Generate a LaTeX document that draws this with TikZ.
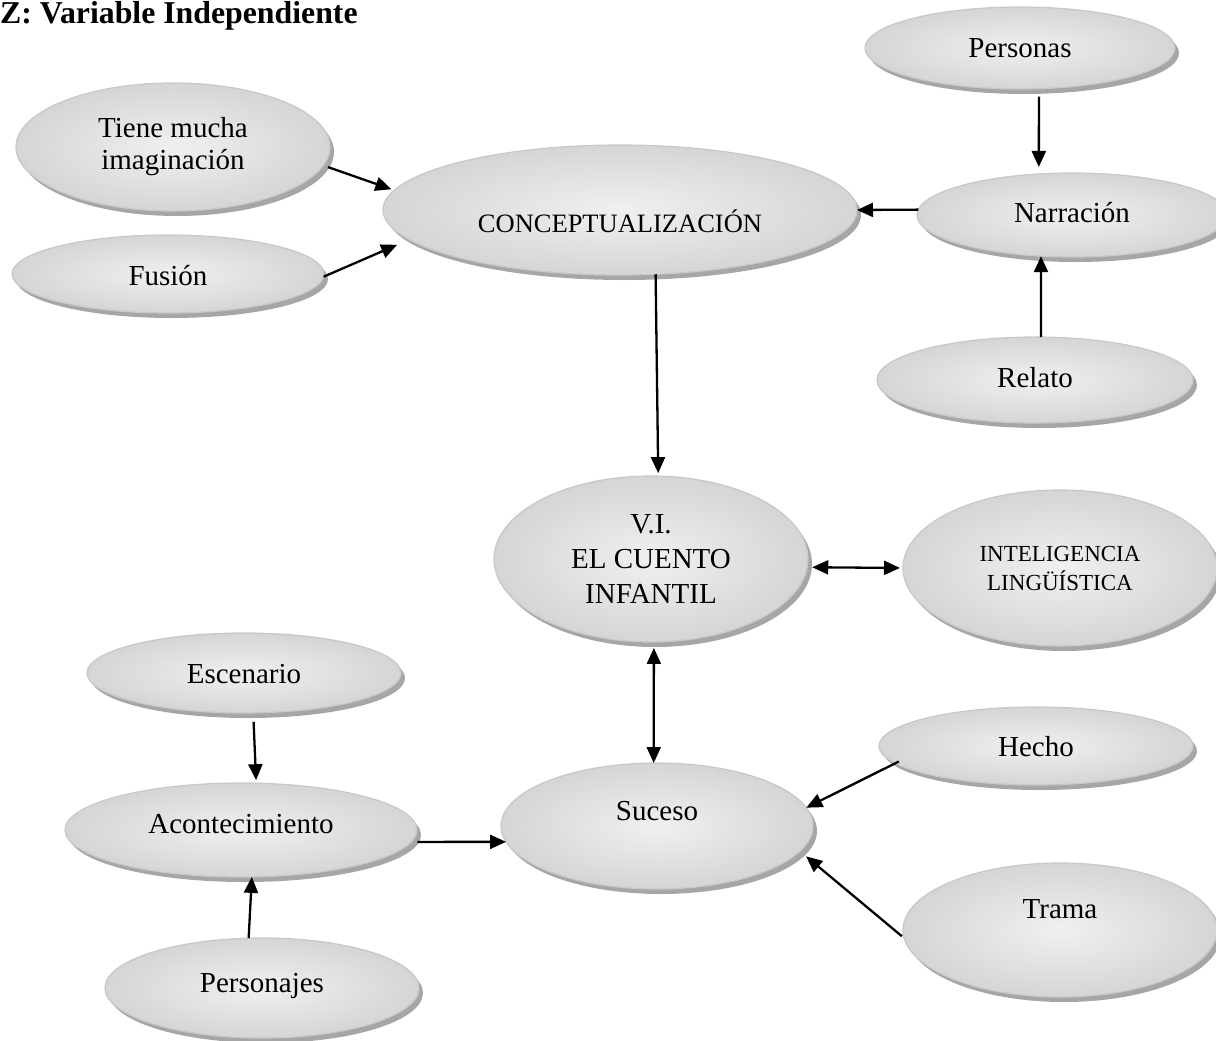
\documentclass[tikz,border=0pt]{standalone}
\usepackage{fontspec}
\setmainfont{Liberation Serif}
\usetikzlibrary{shapes.geometric,arrows.meta,shadows}
\newcommand\myfs[2]{\fontsize{#1}{#2}\selectfont}
\definecolor{bord}{HTML}{C8C8C8}
\definecolor{shad}{HTML}{A6A6A6}
\definecolor{innerc}{HTML}{F0F0F0}
\definecolor{outerc}{HTML}{D5D5D5}
\tikzset{
  bub/.style={ellipse, draw=bord, line width=1.2pt, inner color=innerc, outer color=outerc,
    inner sep=0pt, outer sep=0pt, font=\myfs{29}{32}, align=center,
    drop shadow={shadow xshift=4pt, shadow yshift=-5pt, fill=shad, opacity=1}},
  arr/.style={-{Triangle[length=16pt,width=14pt]}, line width=2.3pt},
  arrtwo/.style={{Triangle[length=16pt,width=14pt]}-{Triangle[length=16pt,width=14pt]}, line width=2.3pt}
}
\begin{document}
\begin{tikzpicture}[x=1pt,y=-1pt]
\useasboundingbox (0,0) rectangle (1216,1041);
\node[anchor=base west, font=\bfseries\myfs{31.8}{36}, inner sep=0pt] (title) at (0,23.5) {Z: Variable Independiente};

\node[bub, minimum width=314pt, minimum height=128pt] (tiene) at (173,147) {Tiene mucha\\imaginación};
\node[bub, minimum width=312pt, minimum height=78pt, text height=26pt, text depth=4pt] (fusion) at (168,274) {Fusión};
\node[bub, minimum width=474pt, minimum height=130pt, text height=48pt, text depth=4pt, font=\myfs{26.5}{30}] (concept) at (620,210) {CONCEPTUALIZACIÓN};
\node[bub, minimum width=310pt, minimum height=82pt, text height=24pt, text depth=4pt] (personas) at (1020,48) {Personas};
\node[bub, minimum width=310pt, minimum height=84pt, text height=20pt, text depth=6pt] (narr) at (1072,215) {Narración};
\node[bub, minimum width=316pt, minimum height=86pt, text height=20pt, text depth=6pt] (relato) at (1035,380) {Relato};
\node[bub, minimum width=314pt, minimum height=166pt, font=\myfs{29}{35}] (vi) at (651,559) {V.I.\\EL CUENTO\\INFANTIL};
\node[bub, minimum width=314pt, minimum height=156pt, font=\myfs{23}{29}] (intel) at (1060,568) {INTELIGENCIA\\LINGÜÍSTICA};
\node[bub, minimum width=314pt, minimum height=80pt, text height=24pt, text depth=4pt] (escen) at (244,673) {Escenario};
\node[bub, minimum width=352pt, minimum height=94pt, text height=16pt, text depth=10pt] (acont) at (241,830) {Acontecimiento};
\node[bub, minimum width=314pt, minimum height=100pt, text height=17pt, text depth=9pt] (personajes) at (262,988) {Personajes};
\node[bub, minimum width=312pt, minimum height=126pt, text height=8pt, text depth=20pt] (suceso) at (657,826) {Suceso};
\node[bub, minimum width=314pt, minimum height=78pt, text height=25pt, text depth=4pt] (hecho) at (1036,746) {Hecho};
\node[bub, minimum width=314pt, minimum height=134pt, text height=2pt, text depth=25pt] (trama) at (1060,930) {Trama};

\draw[arr, shorten <=5pt, shorten >=3pt] (tiene.-7) -- (concept.175);
\draw[arr, shorten >=13pt] (fusion.-1) -- (concept.-172);
\draw[arr] (narr.178) -- (concept.0);
\draw[arr, shorten <=8pt, shorten >=7pt] (personas.-65) -- (narr.129);
\draw[arr] (relato.82) -- (narr.-127);
\draw[arr, shorten >=3pt] (concept.-61) -- (vi.85);
\draw[arrtwo, shorten <=5pt, shorten >=3pt] (vi.-3) -- (intel.180);
\draw[arrtwo, shorten <=6pt] (vi.-88) -- (suceso.93);
\draw[arr, shorten <=9pt, shorten >=3pt] (escen.-77) -- (acont.72);
\draw[arr] (personajes.105) -- (acont.-77);
\draw[arr, shorten <=6pt] (acont.-4) -- (suceso.-174);
\draw[arr, shorten <=-4pt] (hecho.-173) -- (suceso.7);
\draw[arr, shorten <=3pt, shorten >=8pt] (trama.-177) -- (suceso.-10);
\end{tikzpicture}
\end{document}
